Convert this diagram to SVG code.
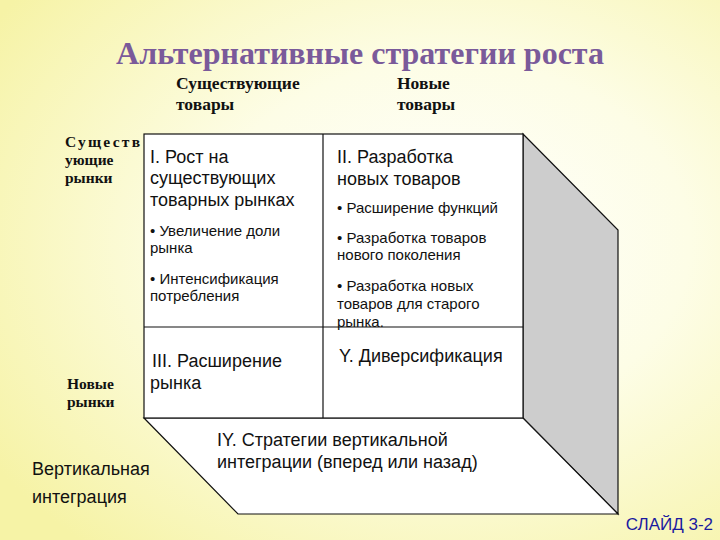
<svg xmlns="http://www.w3.org/2000/svg" width="720" height="540" viewBox="0 0 720 540">
<defs>
<radialGradient id="bg" cx="0.62" cy="0.45" r="0.75">
<stop offset="0" stop-color="#ffffff"/>
<stop offset="0.45" stop-color="#fdfde6"/>
<stop offset="1" stop-color="#f6f3a6"/>
</radialGradient>
<style>
.s{font-family:"Liberation Serif",serif;font-weight:bold;font-size:17.5px;fill:#111}
.r{font-family:"Liberation Serif",serif;font-weight:bold;font-size:15.5px;fill:#111}
.a{font-family:"Liberation Sans",Arial,sans-serif;font-size:18px;fill:#111}
.b{font-family:"Liberation Sans",Arial,sans-serif;font-size:15px;fill:#111}
.f{stroke:#111;stroke-width:1.2}
</style>
</defs>
<rect width="720" height="540" fill="url(#bg)"/>
<text x="360" y="64" text-anchor="middle" font-family="Liberation Serif,serif" font-weight="bold" font-size="32" fill="#7a5a9a">Альтернативные стратегии роста</text>
<g id="colhead">
<text class="s" x="176" y="89">Существующие</text><text class="s" x="176" y="110">товары</text>
<text class="s" x="397" y="89">Новые</text><text class="s" x="397" y="110">товары</text>
</g>
<g id="rowhead">
<text class="r" x="65" y="147" textLength="75">Существ</text><text class="r" x="65" y="165">ующие</text><text class="r" x="65" y="183">рынки</text>
<text class="r" x="67" y="389">Новые</text><text class="r" x="67" y="407">рынки</text>
</g>
<g id="cube">
<polygon class="f" points="523,134 618,230 618,514 523,418" fill="#cdcdcd"/>
<polygon class="f" points="144,418 523,418 618,514 238,514" fill="#fff"/>
<rect class="f" x="144" y="134" width="379" height="284" fill="#fff"/>
</g>
<g id="connectors">
<line class="f" x1="323" y1="134" x2="323" y2="418"/>
<line class="f" x1="144" y1="327" x2="523" y2="327"/>
</g>
<g id="q1">
<text class="a" x="150" y="163">I. Рост на</text><text class="a" x="150" y="184">существующих</text><text class="a" x="150" y="206">товарных рынках</text>
<text class="b" x="150" y="236">• Увеличение доли</text><text class="b" x="150" y="253">рынка</text>
<text class="b" x="150" y="284">• Интенсификация</text><text class="b" x="150" y="301">потребления</text>
</g>
<g id="q2">
<text class="a" x="337" y="163">II. Разработка</text><text class="a" x="337" y="185">новых товаров</text>
<text class="b" x="337" y="213">• Расширение функций</text>
<text class="b" x="337" y="243">• Разработка товаров</text><text class="b" x="337" y="260">нового поколения</text>
<text class="b" x="337" y="291">• Разработка новых</text><text class="b" x="337" y="309">товаров для старого</text><text class="b" x="337" y="327">рынка.</text>
</g>
<g id="q3"><text class="a" x="152" y="367"> III. Расширение</text><text class="a" x="150" y="389">рынка</text></g>
<g id="q4"><text class="a" x="339" y="362">Y. Диверсификация</text></g>
<g id="q5"><text class="a" x="217" y="446">IY. Стратегии вертикальной</text><text class="a" x="217" y="468">интеграции (вперед или назад)</text></g>
<g id="vi"><text class="a" x="32" y="475" font-size="19">Вертикальная</text><text class="a" x="32" y="503" font-size="19">интеграция</text></g>
<text x="713" y="530" text-anchor="end" font-family="Liberation Sans,sans-serif" font-size="17" fill="#1a1aa0">СЛАЙД 3-2</text>
</svg>
